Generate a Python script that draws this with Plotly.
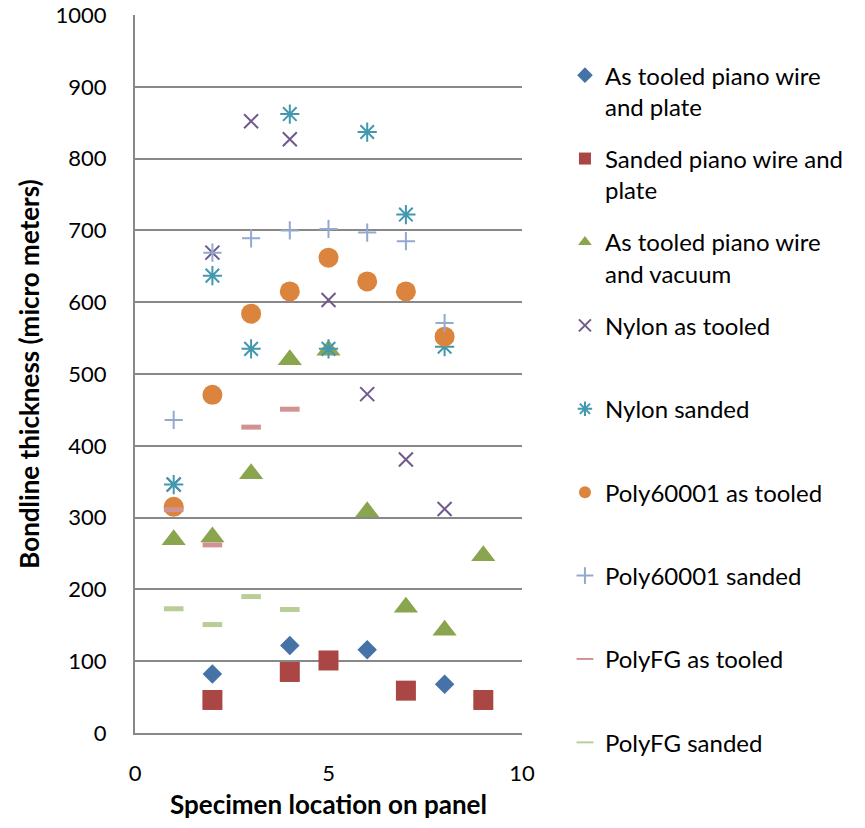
import plotly.graph_objects as go

# Data
names = [
    "As tooled piano wire<br>and plate",
    "Sanded piano wire and<br>plate",
    "As tooled piano wire<br>and vacuum",
    "Nylon as tooled<br>\u00a0",
    "Nylon sanded<br>\u00a0",
    "Poly60001 as tooled<br>\u00a0",
    "Poly60001 sanded<br>\u00a0",
    "PolyFG as tooled<br>\u00a0",
    "PolyFG sanded<br>\u00a0",
]

x_plate_tooled = [2, 4, 6, 8]
y_plate_tooled = [82, 122, 116, 68]

x_plate_sanded = [2, 4, 5, 7, 9]
y_plate_sanded = [46, 85, 101, 59, 46]

x_vacuum = [1, 2, 3, 4, 5, 6, 7, 8, 9]
y_vacuum = [269, 273, 361, 520, 533, 308, 175, 143, 247]

x_nylon_tooled = [1, 2, 3, 4, 5, 6, 7, 8]
y_nylon_tooled = [346, 669, 852, 827, 603, 472, 381, 312]

x_nylon_sanded = [1, 2, 3, 4, 5, 6, 7, 8]
y_nylon_sanded = [346, 637, 535, 862, 535, 837, 722, 538]

x_poly_tooled = [1, 2, 3, 4, 5, 6, 7, 8]
y_poly_tooled = [315, 471, 584, 615, 662, 629, 615, 552]

x_poly_sanded = [1, 2, 3, 4, 5, 6, 7, 8]
y_poly_sanded = [436, 669, 689, 700, 702, 697, 685, 571]

x_polyfg_tooled = [1, 2, 3, 4]
y_polyfg_tooled = [311, 262, 426, 451]

x_polyfg_sanded = [1, 2, 3, 4]
y_polyfg_sanded = [173, 151, 190, 172]

xs = [x_plate_tooled, x_plate_sanded, x_vacuum, x_nylon_tooled, x_nylon_sanded,
      x_poly_tooled, x_poly_sanded, x_polyfg_tooled, x_polyfg_sanded]
ys = [y_plate_tooled, y_plate_sanded, y_vacuum, y_nylon_tooled, y_nylon_sanded,
      y_poly_tooled, y_poly_sanded, y_polyfg_tooled, y_polyfg_sanded]

colors = ["#4572A7", "#AA4643", "#89A54E", "#71588F", "#4198AF",
          "#DB843D", "#93A9CF", "#D19392", "#B9CD96"]
symbols = ["diamond", "square", "triangle-up", "x-thin-open", "asterisk-open",
           "circle", "cross-thin-open", "line-ew-open", "line-ew-open"]
sizes = [15, 20, 21, 14, 16, 20, 13, 14, 14]
lwidths = [0, 0, 0, 2, 2, 0, 2, 5, 5]

fig = go.Figure()
for i in range(len(names)):
    fig.add_trace(go.Scatter(
        x=xs[i], y=ys[i], mode="markers", name=names[i],
        legendgroup=str(i),
        marker=dict(symbol=symbols[i], size=sizes[i], color=colors[i],
                    line=dict(color=colors[i], width=lwidths[i])),
    ))

fig.update_layout(
    width=865, height=828,
    margin=dict(l=135, r=343, t=15, b=95),
    paper_bgcolor="white", plot_bgcolor="white",
    font=dict(family="Lato, Open Sans, sans-serif", size=22, color="black"),
    showlegend=True,
    legend=dict(x=1.111, xanchor="left", y=0.947, yanchor="top",
                valign="top", tracegroupgap=18, maxheight=820,
                font=dict(size=24, color="black"), itemsizing="constant"),
)
fig.update_xaxes(
    range=[0, 10], dtick=5, showgrid=False, zeroline=False,
    showline=True, linecolor="#888888", linewidth=2, automargin=False,
    ticks="", ticklabelstandoff=20, tickfont=dict(size=22),
    title=dict(text="<b>Specimen location on panel</b>", font=dict(size=26), standoff=10),
)
fig.update_yaxes(
    range=[0, 1000], dtick=100, showgrid=True, gridcolor="#888888", gridwidth=1.5,
    zeroline=False, showline=True, linecolor="#888888", linewidth=2, automargin=False,
    ticks="", ticklabelstandoff=22, tickfont=dict(size=22),
    title=dict(text="<b>Bondline thickness (micro meters)</b>", font=dict(size=26), standoff=8),
)

fig.write_html("out.html")
